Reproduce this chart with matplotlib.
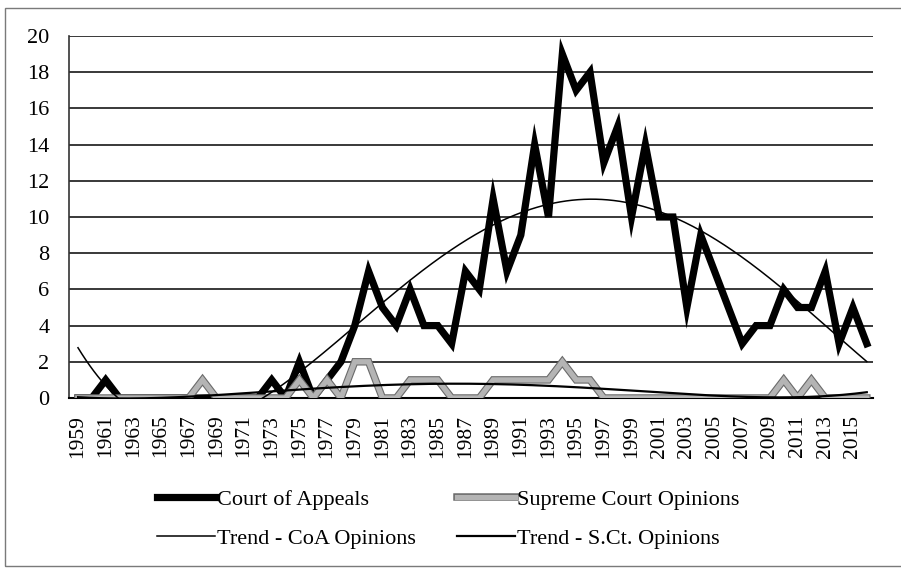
import numpy as np
import matplotlib
matplotlib.use("Agg")
import matplotlib.pyplot as plt
import matplotlib.patheffects as pe
from matplotlib.patches import Rectangle

years = list(range(1959, 2017))
court_of_appeals = [0, 0, 1, 0, 0, 0, 0, 0, 0, 0,
                    0, 0, 0, 0, 1, 0, 2, 0, 1, 2,
                    4, 7, 5, 4, 6, 4, 4, 3, 7, 6,
                    11, 7, 9, 14, 10, 19, 17, 18, 13, 15,
                    10, 14, 10, 10, 5, 9, 7, 5, 3, 4,
                    4, 6, 5, 5, 7, 3, 5, 3]
supreme_court = [0, 0, 0, 0, 0, 0, 0, 0, 0, 1,
                 0, 0, 0, 0, 0, 0, 1, 0, 1, 0,
                 2, 2, 0, 0, 1, 1, 1, 0, 0, 0,
                 1, 1, 1, 1, 1, 2, 1, 1, 0, 0,
                 0, 0, 0, 0, 0, 0, 0, 0, 0, 0,
                 0, 1, 0, 1, 0, 0, 0, 0]
tick_labels = [str(y) for y in years[::2]]
legend_labels = ["Court of Appeals", "Supreme Court Opinions",
                 "Trend - CoA Opinions", "Trend - S.Ct. Opinions"]
trend_degree = 4  # polynomial trendlines

plt.rcParams['font.family'] = ['Liberation Serif', 'DejaVu Serif']

fig = plt.figure(figsize=(9.01, 5.71), dpi=100)
ax = fig.add_axes([69/901, 1 - 398/571, (873 - 69)/901, (398 - 36)/571])

x = np.arange(len(years))
ax.set_xlim(-0.65, 57.45)
ax.set_ylim(0, 20)

for yv in range(2, 21, 2):
    ax.axhline(yv, color='#2a2a2a', lw=1.3, zorder=1)

l1, = ax.plot(x, court_of_appeals, color='black', lw=5.2, solid_joinstyle='miter',
              zorder=3, label=legend_labels[0])
l2, = ax.plot(x, supreme_court, color='#b4b4b4', lw=3.8, solid_joinstyle='miter', zorder=4,
              label=legend_labels[1],
              path_effects=[pe.Stroke(linewidth=5.4, foreground='#6a6a6a'), pe.Normal()])

xf = np.linspace(0, len(years) - 1, 400)
c1 = np.polyfit(x, court_of_appeals, trend_degree)
c2 = np.polyfit(x, supreme_court, trend_degree)
l3, = ax.plot(xf, np.polyval(c1, xf), color='black', lw=1.1, zorder=5, label=legend_labels[2])
l4, = ax.plot(xf, np.polyval(c2, xf), color='black', lw=1.6, zorder=5, label=legend_labels[3])

ax.set_yticks(range(0, 21, 2))
ax.set_xticks(x[::2])
ax.set_xticklabels(tick_labels, rotation=90, fontsize=15.5)
ax.tick_params(axis='y', labelsize=16, length=0, pad=14)
ax.tick_params(axis='x', length=0, pad=12)
for s in ['top', 'right']:
    ax.spines[s].set_visible(False)
ax.spines['left'].set_color('#333333')
ax.spines['left'].set_linewidth(1.2)
ax.spines['bottom'].set_color('black')
ax.spines['bottom'].set_linewidth(1.5)

fig.legend([l1, l3, l2, l4],
           [legend_labels[0], legend_labels[2], legend_labels[1], legend_labels[3]],
           ncol=2, loc='center', bbox_to_anchor=(448/901, 1 - 519/571),
           frameon=False, fontsize=16, handlelength=2.6, handletextpad=0.1,
           columnspacing=1.85, labelspacing=0.85)

fig.patches.append(Rectangle((5/901, 1 - 566/571), 1.0, (566 - 8)/571,
                             transform=fig.transFigure, fill=False,
                             edgecolor='#7a7a7a', lw=1.0))

fig.savefig("out.png", dpi=100)
